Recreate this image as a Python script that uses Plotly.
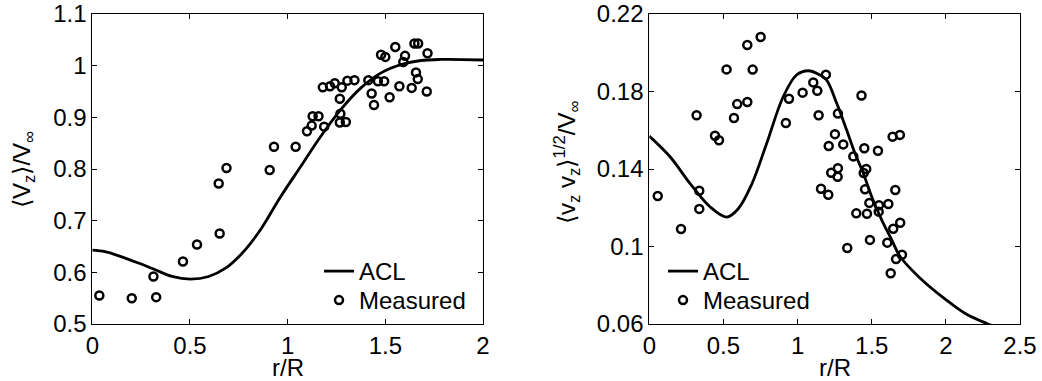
import plotly.graph_objects as go

# ---------------- data: left panel ----------------
left_meas_x = [0.036, 0.202, 0.327, 0.313, 0.464, 0.536, 0.652, 0.647, 0.687, 0.908,
               0.930, 1.041, 1.099, 1.123, 1.128, 1.158, 1.187, 1.180, 1.217, 1.241,
               1.277, 1.267, 1.270, 1.267, 1.298, 1.306, 1.342, 1.413, 1.430, 1.442,
               1.462, 1.494, 1.478, 1.500, 1.522, 1.551, 1.572, 1.592, 1.601, 1.635,
               1.649, 1.668, 1.657, 1.666, 1.716, 1.712]
left_meas_y = [0.555, 0.550, 0.552, 0.592, 0.621, 0.654, 0.675, 0.772, 0.802, 0.798,
               0.843, 0.843, 0.873, 0.884, 0.902, 0.902, 0.882, 0.958, 0.960, 0.966,
               0.958, 0.936, 0.907, 0.890, 0.891, 0.971, 0.972, 0.972, 0.946, 0.924,
               0.970, 0.970, 1.021, 1.017, 0.939, 1.036, 0.960, 1.007, 1.019, 0.957,
               1.043, 1.043, 0.987, 0.974, 1.024, 0.950]

left_acl_x = [0.0, 0.065, 0.151, 0.236, 0.322, 0.408, 0.502, 0.596, 0.682, 0.767,
              0.86, 0.96, 1.067, 1.169, 1.272, 1.375, 1.478, 1.580, 1.683, 1.785, 2.0]
left_acl_y = [0.643, 0.640, 0.630, 0.618, 0.605, 0.592, 0.587, 0.592, 0.608, 0.637,
              0.682, 0.744, 0.805, 0.863, 0.915, 0.957, 0.986, 1.002, 1.010, 1.012, 1.011]

# ---------------- data: right panel ----------------
right_meas_x = [0.057, 0.214, 0.319, 0.337, 0.337, 0.443, 0.470, 0.521, 0.571, 0.593,
                0.661, 0.661, 0.697, 0.751, 0.921, 0.942, 1.034, 1.106, 1.133, 1.142,
                1.191, 1.158, 1.207, 1.210, 1.252, 1.272, 1.308, 1.227, 1.272, 1.270,
                1.335, 1.376, 1.396, 1.431, 1.450, 1.446, 1.463, 1.455, 1.468, 1.484,
                1.488, 1.542, 1.549, 1.547, 1.612, 1.605, 1.628, 1.641, 1.690, 1.659,
                1.645, 1.692, 1.664, 1.704]
right_meas_y = [0.1261, 0.1090, 0.1677, 0.1288, 0.1194, 0.1572, 0.1548, 0.1914, 0.1663, 0.1735,
                0.1746, 0.2040, 0.1913, 0.2081, 0.1637, 0.1763, 0.1794, 0.1847, 0.1804, 0.1677,
                0.1887, 0.1298, 0.1267, 0.1519, 0.1580, 0.1686, 0.1527, 0.1381, 0.1404, 0.1360,
                0.0992, 0.1465, 0.1171, 0.1779, 0.1507, 0.1379, 0.1400, 0.1295, 0.1169, 0.1225,
                0.1034, 0.1494, 0.1213, 0.1180, 0.1219, 0.1020, 0.0862, 0.1567, 0.1576, 0.1292,
                0.1092, 0.1123, 0.0935, 0.0957]

right_acl_x = [0.0, 0.140, 0.274, 0.409, 0.522, 0.600, 0.690, 0.792, 0.903, 0.993,
               1.072, 1.151, 1.196, 1.264, 1.331, 1.387, 1.443, 1.500, 1.567, 1.635,
               1.690, 1.825, 2.000, 2.140, 2.275, 2.320]
right_acl_y = [0.157, 0.1463, 0.1326, 0.1205, 0.1152, 0.1195, 0.1320, 0.1533, 0.1773, 0.1885,
               0.1907, 0.1885, 0.1859, 0.1739, 0.1601, 0.1481, 0.1378, 0.1257, 0.1137, 0.1034,
               0.0950, 0.0838, 0.0726, 0.0650, 0.0603, 0.0590]

# ---------------- ticks ----------------
left_xticks = [0, 0.5, 1, 1.5, 2]
left_xtick_text = ["0", "0.5", "1", "1.5", "2"]
left_yticks = [0.5, 0.6, 0.7, 0.8, 0.9, 1.0, 1.1]
left_ytick_text = ["0.5", "0.6", "0.7", "0.8", "0.9", "1", "1.1"]
right_xticks = [0, 0.5, 1, 1.5, 2, 2.5]
right_xtick_text = ["0", "0.5", "1", "1.5", "2", "2.5"]
right_yticks = [0.06, 0.1, 0.14, 0.18, 0.22]
right_ytick_text = ["0.06", "0.1", "0.14", "0.18", "0.22"]

W, H = 1042, 381
FONT = "Liberation Sans, Arial, Helvetica, sans-serif"
FS = 24

def px_x(p):
    return p / W

def px_y(p):
    return (H - p) / H

fig = go.Figure()

line_style = dict(color="black", width=2.8, shape="spline", smoothing=1.0)
marker_style = dict(symbol="circle-open", size=8, color="black", line=dict(width=2.5, color="black"))

fig.add_trace(go.Scatter(x=left_acl_x, y=left_acl_y, mode="lines", line=line_style,
                         name="ACL", xaxis="x", yaxis="y", legend="legend"))
fig.add_trace(go.Scatter(x=left_meas_x, y=left_meas_y, mode="markers", marker=marker_style,
                         name="Measured", xaxis="x", yaxis="y", legend="legend3"))
fig.add_trace(go.Scatter(x=right_acl_x, y=right_acl_y, mode="lines", line=line_style,
                         name="ACL", xaxis="x2", yaxis="y2", legend="legend2"))
fig.add_trace(go.Scatter(x=right_meas_x, y=right_meas_y, mode="markers", marker=marker_style,
                         name="Measured", xaxis="x2", yaxis="y2", legend="legend4"))

axis_common = dict(showline=True, linecolor="black", linewidth=1, mirror="ticks",
                   ticks="inside", ticklen=5, tickcolor="black", tickwidth=1,
                   showgrid=False, zeroline=False, automargin=False,
                   tickfont=dict(family=FONT, size=FS, color="black"))

legend_common = dict(xanchor="left", yanchor="top", bgcolor="rgba(0,0,0,0)",
                     borderwidth=0, tracegroupgap=0, traceorder="normal",
                     font=dict(family=FONT, size=FS, color="black"))

fig.update_layout(
    template="none",
    width=W, height=H,
    margin=dict(l=0, r=0, t=0, b=0, pad=0),
    paper_bgcolor="white", plot_bgcolor="white",
    font=dict(family=FONT, size=FS, color="black"),
    xaxis=dict(domain=[px_x(92.3), px_x(483)], range=[0, 2], anchor="y",
               tickvals=left_xticks, ticktext=left_xtick_text, **axis_common),
    yaxis=dict(domain=[px_y(324), px_y(14)], range=[0.5, 1.1], anchor="x",
               tickvals=left_yticks, ticktext=left_ytick_text, **axis_common),
    xaxis2=dict(domain=[px_x(649.3), px_x(1020)], range=[0, 2.5], anchor="y2",
                tickvals=right_xticks, ticktext=right_xtick_text, **axis_common),
    yaxis2=dict(domain=[px_y(324), px_y(14)], range=[0.06, 0.22], anchor="x2",
                tickvals=right_yticks, ticktext=right_ytick_text, **axis_common),
    legend=dict(x=px_x(319), y=px_y(249), **legend_common),
    legend3=dict(x=px_x(319), y=px_y(278), **legend_common),
    legend2=dict(x=px_x(663), y=px_y(249), **legend_common),
    legend4=dict(x=px_x(663), y=px_y(278), **legend_common),
    showlegend=True,
)

annots = [
    dict(text="r/R", x=px_x(287.6), y=px_y(367), xanchor="center", yanchor="middle"),
    dict(text="r/R", x=px_x(834.6), y=px_y(367), xanchor="center", yanchor="middle"),
    dict(text="⟨V<sub>z</sub>⟩/V<sub>∞</sub>", x=px_x(23), y=px_y(170),
         xanchor="center", yanchor="middle", textangle=-90),
    dict(text="⟨v<sub>z</sub> v<sub>z</sub>⟩<sup>1/2</sup>/V<sub>∞</sub>", x=px_x(567), y=px_y(163),
         xanchor="center", yanchor="middle", textangle=-90),
]
for a in annots:
    fig.add_annotation(xref="paper", yref="paper", showarrow=False,
                       font=dict(family=FONT, size=FS, color="black"), **a)

fig.write_html("out.html",
               config={"displayModeBar": False},
               post_script="document.body.style.margin='0';document.body.style.padding='0';"
                           "document.body.style.overflow='hidden';")
